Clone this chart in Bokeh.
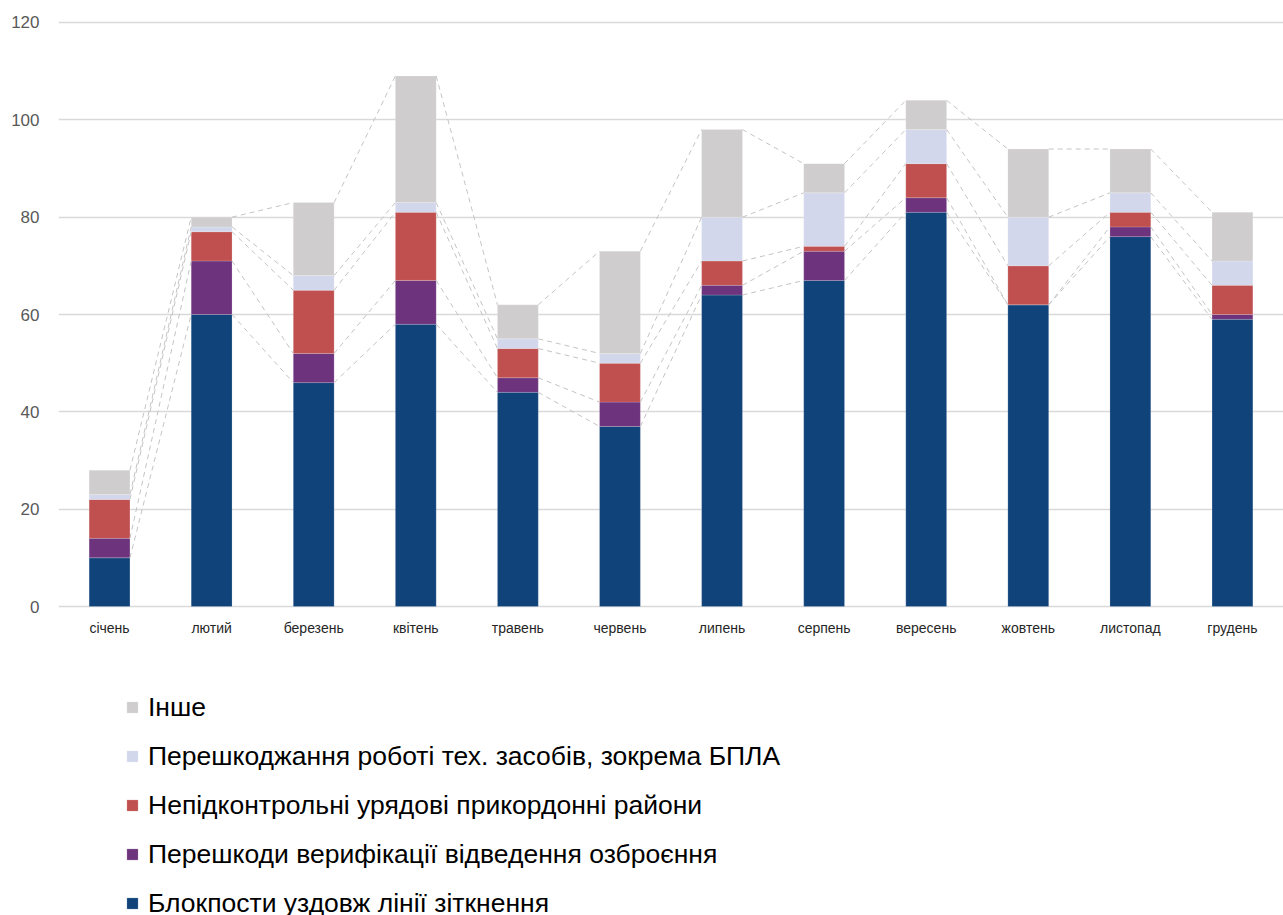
import numpy as np
from bokeh.plotting import figure
from bokeh.models import Range1d, FixedTicker, Legend, LegendItem, ColumnDataSource
from bokeh.embed import file_html
from bokeh.resources import INLINE

months = ["січень", "лютий", "березень", "квітень", "травень", "червень",
          "липень", "серпень", "вересень", "жовтень", "листопад", "грудень"]

s_block = [10, 60, 46, 58, 44, 37, 64, 67, 81, 62, 76, 59]
s_verif = [4, 11, 6, 9, 3, 5, 2, 6, 3, 0, 2, 1]
s_border = [8, 6, 13, 14, 6, 8, 5, 1, 7, 8, 3, 6]
s_uav = [1, 1, 3, 2, 2, 2, 9, 11, 7, 10, 4, 5]
s_other = [5, 2, 15, 26, 7, 21, 18, 6, 6, 14, 9, 10]

names = ["Блокпости уздовж лінії зіткнення",
         "Перешкоди верифікації відведення озброєння",
         "Непідконтрольні урядові прикордонні райони",
         "Перешкоджання роботі тех. засобів, зокрема БПЛА",
         "Інше"]
colors = ["#10437A", "#6D337D", "#C0504F", "#D3D7EC", "#CFCDCE"]
series = [s_block, s_verif, s_border, s_uav, s_other]

y_ticks = [0, 20, 40, 60, 80, 100, 120]

FONT = "Liberation Sans"

# frame spans from y=20 px to the bottom of the picture; value 0 sits at 606 px,
# value 120 at 22 px, the space below zero holds the month labels and the legend
p = figure(width=1283, height=915, output_backend="svg", toolbar_location=None,
           x_range=Range1d(0, len(months)), y_range=Range1d(-63.49, 120.41),
           min_border_left=58, min_border_right=0, min_border_top=20,
           min_border_bottom=0)
p.outline_line_color = None
p.background_fill_color = "white"
p.border_fill_color = "white"

x = np.arange(len(months)) + 0.5
bw = 0.4
bottom = np.zeros(len(months))
renderers = []
tops = []
for vals, col in zip(series, colors):
    v = np.array(vals, dtype=float)
    top = bottom + v
    src = ColumnDataSource(dict(x=x, bottom=bottom, top=top))
    r = p.vbar(x="x", bottom="bottom", top="top", width=bw, source=src,
               fill_color=col, line_color="white", line_width=0.5, line_alpha=0.35)
    renderers.append(r)
    tops.append(top)
    bottom = top

# series connector lines
for top in tops:
    p.segment(x0=x[:-1] + bw / 2, y0=top[:-1], x1=x[1:] - bw / 2, y1=top[1:],
              line_color="#C4C4C4", line_width=1, line_dash="5 4")

# axes
p.yaxis.ticker = FixedTicker(ticks=y_ticks)
p.yaxis.axis_line_color = None
p.yaxis.major_tick_line_color = None
p.yaxis.minor_tick_line_color = None
p.yaxis.major_label_text_font = FONT
p.yaxis.major_label_text_font_size = "17px"
p.yaxis.major_label_text_color = "#595959"
p.yaxis.major_label_standoff = 13

p.xaxis.fixed_location = 0
p.xaxis.ticker = FixedTicker(ticks=list(x))
p.xaxis.major_label_overrides = {float(xx): m for xx, m in zip(x, months)}
p.xaxis.axis_line_color = None
p.xaxis.major_tick_line_color = None
p.xaxis.minor_tick_line_color = None
p.xaxis.major_label_text_font = FONT
p.xaxis.major_label_text_font_size = "14px"
p.xaxis.major_label_text_color = "#262626"
p.xaxis.major_label_standoff = 7

p.xgrid.grid_line_color = None
p.ygrid.ticker = FixedTicker(ticks=y_ticks)
p.ygrid.grid_line_color = "#D9D9D9"
p.ygrid.grid_line_width = 1.5

items = [LegendItem(label=names[i], renderers=[renderers[i]]) for i in [4, 3, 2, 1, 0]]
legend = Legend(items=items, location=(67, -4), orientation="vertical",
                label_text_font=FONT, label_text_font_size="26.5px",
                label_text_color="#000000", glyph_width=14, glyph_height=14,
                label_height=32, spacing=17, padding=0, margin=0, label_standoff=9,
                border_line_color=None, background_fill_alpha=0)
p.add_layout(legend, "center")

open("out.html", "w").write(file_html(p, INLINE))
